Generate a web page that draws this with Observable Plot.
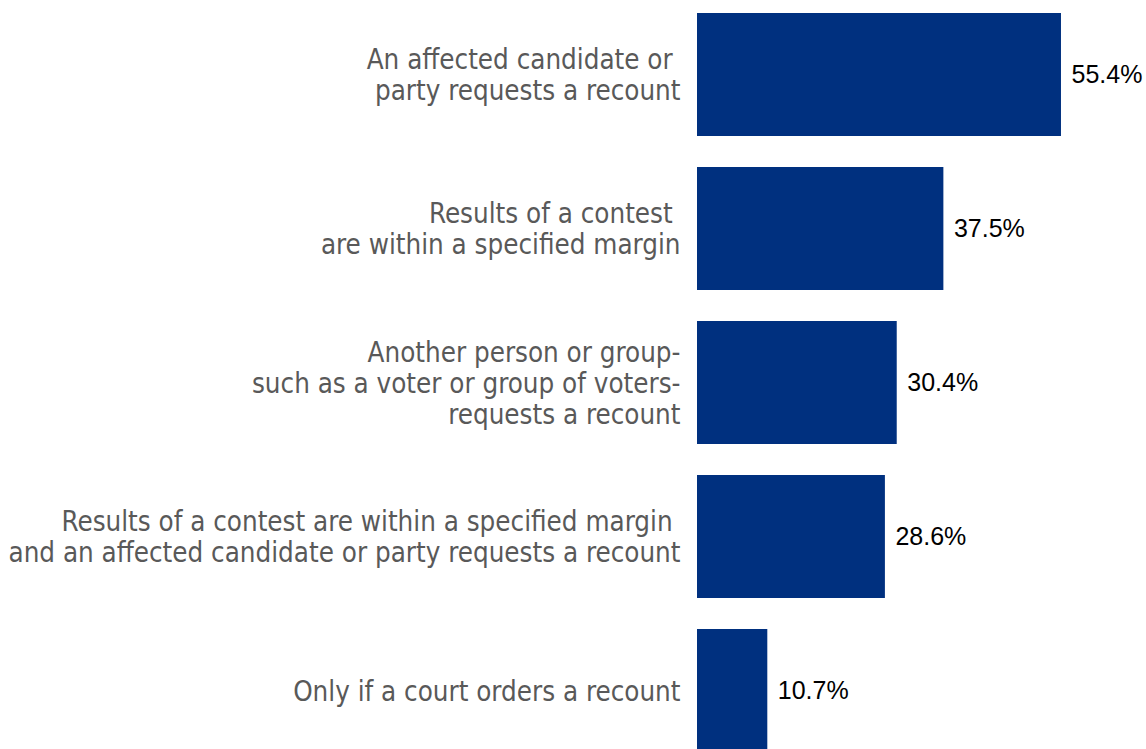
<!DOCTYPE html>
<html>
<head>
<meta charset="utf-8">
<script src="https://cdn.jsdelivr.net/npm/d3@7"></script>
<script src="https://cdn.jsdelivr.net/npm/@observablehq/plot@0.6"></script>
<style>
  html, body { margin: 0; padding: 0; background: #fff; overflow: hidden; }
</style>
</head>
<body>
<div id="chart"></div>
<script>
const categories = [
  "An affected candidate or\u00a0\nparty requests a recount",
  "Results of a contest\u00a0\nare within a specified margin",
  "Another person or group-\nsuch as a voter or group of voters-\nrequests a recount",
  "Results of a contest are within a specified margin\u00a0\nand an affected candidate or party requests a recount",
  "Only if a court orders a recount"
];
const values = [55.4, 37.5, 30.4, 28.6, 10.7];
const valueLabels = ["55.4%", "37.5%", "30.4%", "28.6%", "10.7%"];

const data = categories.map((c, i) => ({category: c, value: values[i], label: valueLabels[i]}));

const chart = Plot.plot({
  width: 1146,
  height: 749,
  marginTop: 0, marginBottom: 0, marginLeft: 0, marginRight: 0,
  style: {background: "#fff", overflow: "hidden"},
  x: {domain: [0, 60], range: [697, 697 + 60 * 6.57], axis: null},
  y: {domain: categories, range: [0, 765], paddingInner: 0.2, paddingOuter: 0.078, axis: null},
  marks: [
    Plot.barX(data, {y: "category", x: "value", fill: "#00307f"}),
    Plot.text(data, {
      y: "category", x: 0, text: "category", textAnchor: "end", dx: -17,
      fill: "#595959", fontSize: 27.5, lineHeight: 1.127,
      fontFamily: "'DejaVu Sans Condensed', sans-serif"
    }),
    Plot.text(data, {
      y: "category", x: "value", text: "label", textAnchor: "start", dx: 10,
      fill: "#000", fontSize: 25, fontFamily: "'Liberation Sans', Arial, sans-serif"
    })
  ]
});
document.getElementById("chart").appendChild(chart);
</script>
</body>
</html>
